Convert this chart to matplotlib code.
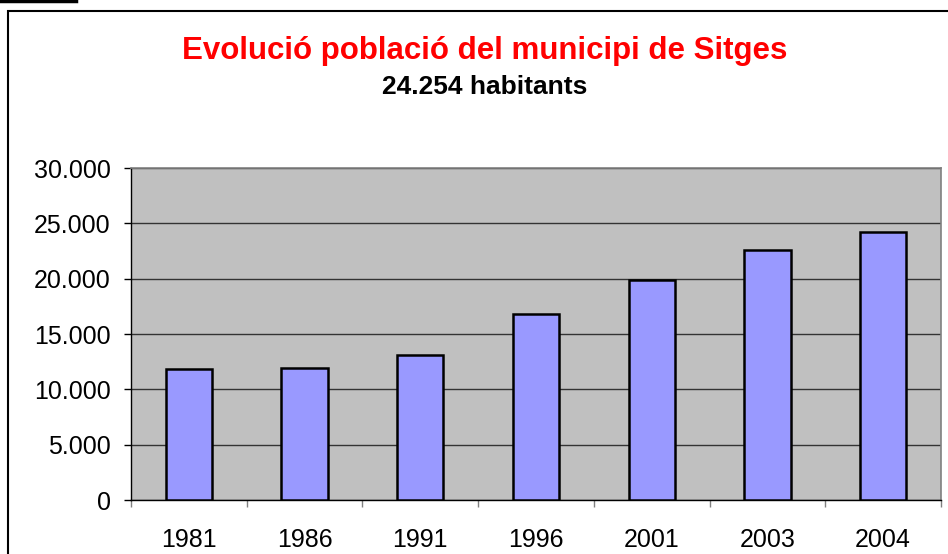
import matplotlib
matplotlib.use("Agg")
import matplotlib.pyplot as plt
from matplotlib.patches import Rectangle
from matplotlib.lines import Line2D
from matplotlib.ticker import FixedLocator, FuncFormatter

years = ["1981", "1986", "1991", "1996", "2001", "2003", "2004"]
population = [11800, 11900, 13100, 16800, 19870, 22580, 24254]
title = "Evolució població del municipi de Sitges"
subtitle = "24.254 habitants"
yticks = [0, 5000, 10000, 15000, 20000, 25000, 30000]

plt.rcParams['font.family'] = ['Liberation Sans', 'DejaVu Sans']

W, H = 948, 554
fig = plt.figure(figsize=(W/100, H/100), dpi=100)
fig.patch.set_facecolor('white')

# outer chart frame
fig.add_artist(Rectangle((8/W, -0.05), 1.2, (H-11)/H + 0.05, transform=fig.transFigure,
                         fill=False, edgecolor='black', linewidth=1.5))
fig.add_artist(Line2D([0, 76/W], [1-1/H, 1-1/H], transform=fig.transFigure,
                      color='black', linewidth=2.5))

left, right, top, bottom = 131, 941, 168, 500
ax = fig.add_axes([left/W, 1-bottom/H, (right-left)/W, (bottom-top)/H])
ax.set_facecolor('#C0C0C0')

x = range(len(years))
ax.bar(x, population, width=0.4, color='#9999FF', edgecolor='black', linewidth=1.8, zorder=3)
ax.set_xlim(-0.5, len(years)-0.5)
ax.set_ylim(0, 30000)

ax.yaxis.set_major_locator(FixedLocator(yticks))
ax.yaxis.set_major_formatter(FuncFormatter(lambda v, p: f"{int(v):,}".replace(",", ".")))
ax.grid(axis='y', color='#333333', linewidth=1.0, zorder=1)
ax.set_axisbelow(True)

ax.set_xticks(list(x))
ax.set_xticklabels(years)
ax.set_xticks([i-0.5 for i in range(len(years)+1)], minor=True)
ax.tick_params(axis='x', which='major', length=0, labelsize=18, pad=20)
ax.tick_params(axis='x', which='minor', length=5, width=1, color='#808080', direction='out')
ax.tick_params(axis='y', length=5, width=1, color='black', labelsize=18, pad=9.5, direction='out')

for s in ['top', 'right']:
    ax.spines[s].set_color('#808080')
    ax.spines[s].set_linewidth(1.2)
ax.spines['left'].set_color('black')
ax.spines['bottom'].set_color('black')
ax.spines['left'].set_linewidth(1.0)
ax.spines['bottom'].set_linewidth(1.0)

fig.text(485/W, 1-59/H, title, color='#FF0000', fontsize=22.5, fontweight='bold',
         ha='center', va='baseline')
fig.text(485/W, 1-94/H, subtitle, color='black', fontsize=19, fontweight='bold',
         ha='center', va='baseline')

fig.savefig("out.png", dpi=100)
